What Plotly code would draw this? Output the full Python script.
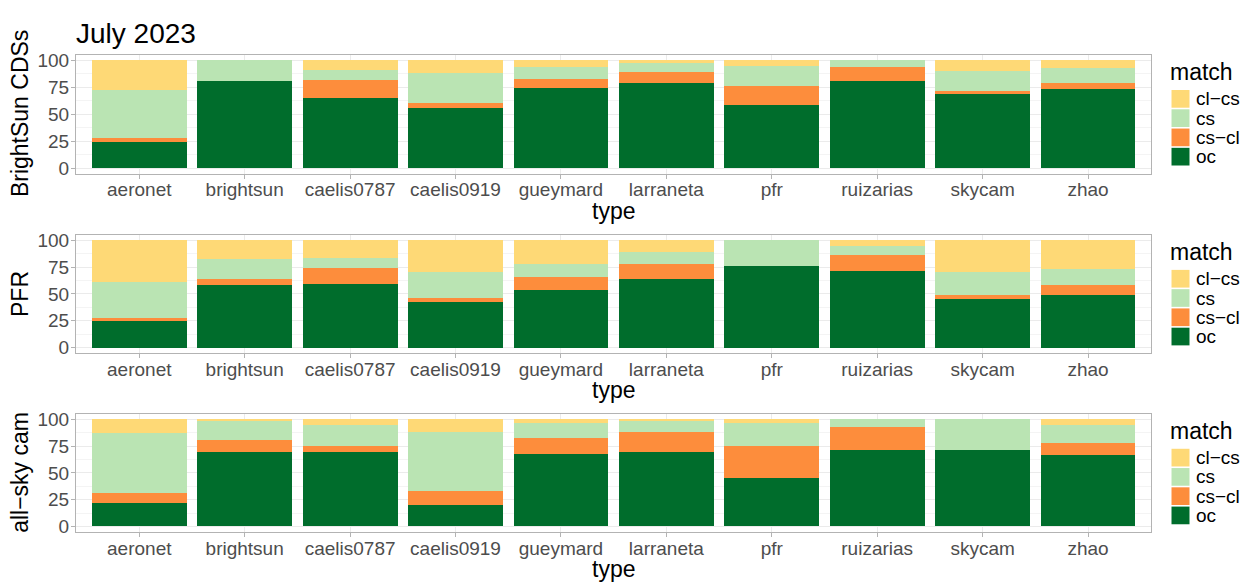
import plotly.graph_objects as go

# Categories and stacked shares (%) per reference dataset
types = ["aeronet", "brightsun", "caelis0787", "caelis0919", "gueymard",
         "larraneta", "pfr", "ruizarias", "skycam", "zhao"]
match_levels = ["oc", "cs\u2212cl", "cs", "cl\u2212cs"]          # bottom -> top
match_colors = ["#006D2C", "#FD8D3C", "#BAE4B3", "#FED976"]
panel_titles = ["BrightSun CDSs", "PFR", "all\u2212sky cam"]
y_ticks = [0, 25, 50, 75, 100]

brightsun_oc   = [23.9, 81.0, 65.0, 55.7, 74.4, 78.6, 58.4, 80.7, 69.6, 72.9]
brightsun_cscl = [3.7, 0.0, 16.5, 4.3, 8.1, 10.0, 17.5, 12.7, 1.8, 5.7]
brightsun_cs   = [44.5, 19.0, 9.2, 27.7, 11.2, 9.6, 18.7, 6.6, 18.1, 13.6]
brightsun_clcs = [27.9, 0.0, 9.3, 12.3, 6.3, 1.8, 5.4, 0.0, 10.5, 7.8]

pfr_oc   = [25.0, 58.6, 59.3, 42.6, 53.7, 64.2, 75.9, 71.1, 44.9, 49.2]
pfr_cscl = [2.5, 5.3, 14.5, 3.4, 12.0, 13.3, 0.0, 15.5, 3.7, 9.0]
pfr_cs   = [33.6, 18.8, 10.2, 24.4, 12.4, 11.4, 24.1, 8.5, 21.7, 15.5]
pfr_clcs = [38.9, 17.3, 16.0, 29.6, 21.9, 11.1, 0.0, 4.9, 29.7, 26.3]

skycam_oc   = [21.9, 69.4, 69.4, 20.0, 67.9, 69.4, 44.8, 71.6, 71.6, 66.7]
skycam_cscl = [9.0, 10.8, 5.6, 12.7, 14.2, 18.6, 30.2, 21.3, 0.0, 11.4]
skycam_cs   = [56.4, 17.9, 20.0, 55.6, 14.8, 10.1, 21.9, 7.1, 28.4, 16.9]
skycam_clcs = [12.7, 1.9, 5.0, 11.7, 3.1, 1.9, 3.1, 0.0, 0.0, 5.0]

panels = [
    [brightsun_oc, brightsun_cscl, brightsun_cs, brightsun_clcs],
    [pfr_oc, pfr_cscl, pfr_cs, pfr_clcs],
    [skycam_oc, skycam_cscl, skycam_cs, skycam_clcs],
]

W, H = 1243, 585
FONT = "Liberation Sans, Arial, sans-serif"
TICK_GREY = "#4d4d4d"
BORDER = "#b3b3b3"
GRID = "#ebebeb"
GRID_MINOR = "#f4f4f4"


def px(x):
    return x / W


def py(y):
    return 1 - y / H


# panel boxes in pixels: (left, right) shared, (top, bottom) per row
X_LEFT, X_RIGHT = 76, 1151.3
panel_rows = [(50.5, 171.5), (234.0, 354.0), (416.0, 536.0)]

fig = go.Figure()
layout = dict(
    width=W, height=H,
    margin=dict(l=0, r=0, t=0, b=0),
    paper_bgcolor="white", plot_bgcolor="white",
    barmode="stack", bargap=0.1, showlegend=False,
    font=dict(family=FONT),
)

annotations = []
shapes = []

for i, (series, (top, bottom)) in enumerate(zip(panels, panel_rows), start=1):
    xa = "x" if i == 1 else f"x{i}"
    ya = "y" if i == 1 else f"y{i}"
    for name, vals, col in zip(match_levels, series, match_colors):
        fig.add_trace(go.Bar(
            x=types, y=vals, name=name, xaxis=xa, yaxis=ya,
            marker=dict(color=col, line=dict(width=0)), width=0.9,
            showlegend=False,
        ))
    suffix = "" if i == 1 else str(i)
    layout["xaxis" + suffix] = dict(
        domain=[px(X_LEFT), px(X_RIGHT)], anchor=ya,
        type="category", range=[-0.6, 9.6],
        showgrid=True, gridcolor=GRID, gridwidth=1,
        showline=True, mirror=True, linecolor=BORDER, linewidth=1,
        ticks="outside", ticklen=4, tickcolor=BORDER, tickwidth=1,
        ticklabelstandoff=-5,
        tickfont=dict(size=19, color=TICK_GREY, family=FONT),
        zeroline=False, fixedrange=True,
    )
    layout["yaxis" + suffix] = dict(
        domain=[py(bottom), py(top)], anchor=xa,
        range=[-5, 105], tickvals=y_ticks,
        ticktext=[str(v) for v in y_ticks],
        showgrid=True, gridcolor=GRID, gridwidth=1,
        minor=dict(tickvals=[12.5, 37.5, 62.5, 87.5], showgrid=True,
                   gridcolor=GRID_MINOR, gridwidth=1),
        showline=True, mirror=True, linecolor=BORDER, linewidth=1,
        ticks="outside", ticklen=4, tickcolor=BORDER, tickwidth=1,
        ticklabelstandoff=-2,
        tickfont=dict(size=19, color=TICK_GREY, family=FONT),
        zeroline=False, fixedrange=True,
    )

    mid = (top + bottom) / 2
    # y-axis title
    annotations.append(dict(
        text=panel_titles[i - 1], textangle=-90, showarrow=False,
        xref="paper", yref="paper", x=px(20), y=py(mid),
        xanchor="center", yanchor="middle",
        font=dict(size=23, color="black", family=FONT),
    ))
    # x-axis title
    annotations.append(dict(
        text="type", showarrow=False, xref="paper", yref="paper",
        x=px((X_LEFT + X_RIGHT) / 2), y=py(bottom + 38),
        xanchor="center", yanchor="middle",
        font=dict(size=23, color="black", family=FONT),
    ))
    # legend for this panel: title, keys, labels
    annotations.append(dict(
        text="match", showarrow=False, xref="paper", yref="paper",
        x=px(1168), y=py(mid - 43), xanchor="left", yanchor="middle",
        font=dict(size=23, color="black", family=FONT),
    ))
    key_top = mid - 24.5
    key_size, key_pitch = 18, 19.6
    legend_order = list(zip(match_levels, match_colors))[::-1]
    for k, (name, col) in enumerate(legend_order):
        y0 = key_top + k * key_pitch
        shapes.append(dict(
            type="rect", xref="paper", yref="paper",
            x0=px(1171.5), x1=px(1171.5 + key_size),
            y0=py(y0 + key_size), y1=py(y0),
            fillcolor=col, line=dict(width=0), layer="above",
        ))
        annotations.append(dict(
            text=name, showarrow=False, xref="paper", yref="paper",
            x=px(1194), y=py(y0 + key_size / 2),
            xanchor="left", yanchor="middle",
            font=dict(size=19, color="black", family=FONT),
        ))

# overall title
annotations.append(dict(
    text="July 2023", showarrow=False, xref="paper", yref="paper",
    x=px(74), y=py(29), xanchor="left", yanchor="middle",
    font=dict(size=28, color="black", family=FONT),
))

layout["annotations"] = annotations
layout["shapes"] = shapes
fig.update_layout(**layout)
fig.write_html("out.html")
